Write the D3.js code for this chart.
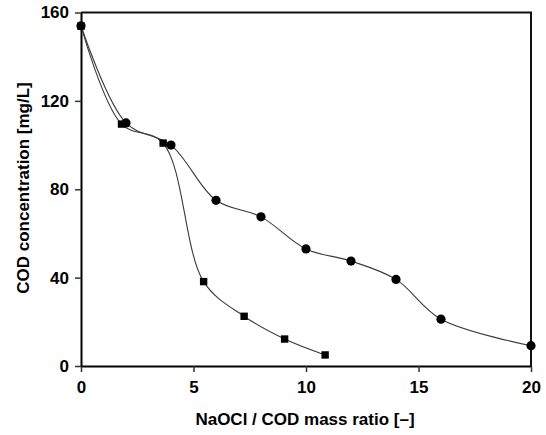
<!DOCTYPE html>
<html>
<head>
<meta charset="utf-8">
<script src="https://cdn.jsdelivr.net/npm/d3@7"></script>
<style>
  body { margin: 0; background: #fff; }
  text { font-family: "Liberation Sans", Arial, sans-serif; font-weight: bold; }
</style>
</head>
<body>
<svg id="chart"></svg>
<script>
const circleX = [0, 2, 4, 6, 8, 10, 12, 14, 16, 20];
const circleY = [154, 110, 100, 75, 67.5, 53, 47.5, 39.2, 21.2, 9.2];
const squareX = [0, 1.8, 3.65, 5.45, 7.25, 9.05, 10.85];
const squareY = [153.8, 109.5, 100.9, 38.2, 22.5, 12.2, 5];
const xTicks = [0, 5, 10, 15, 20];
const yTicks = [0, 40, 80, 120, 160];

const width = 546;
const height = 435;
const color = "#000";

const svg = d3.select("#chart")
  .attr("width", width)
  .attr("height", height);

const xScale = d3.scaleLinear().domain([0, 20]).range([81, 531]);
const yScale = d3.scaleLinear().domain([0, 160]).range([366, 12.5]);

// frame (top and right)
svg.append("path")
  .attr("d", `M${xScale(0)},${yScale(160)}H${xScale(20)}V${yScale(0)}`)
  .attr("fill", "none")
  .attr("stroke", "#111")
  .attr("stroke-width", 2);

const xAxis = svg.append("g")
  .attr("transform", `translate(0, ${yScale(0)})`)
  .call(d3.axisBottom(xScale).tickValues(xTicks).tickSize(6).tickPadding(9).tickSizeOuter(0));

const yAxis = svg.append("g")
  .attr("transform", `translate(${xScale(0)}, 0)`)
  .call(d3.axisLeft(yScale).tickValues(yTicks).tickSize(6).tickPadding(6).tickSizeOuter(0));

[xAxis, yAxis].map((axis) => {
  axis.select(".domain").attr("stroke", color).attr("stroke-width", 2);
  axis.selectAll(".tick line").attr("stroke", "#333").attr("stroke-width", 1.5);
  axis.selectAll(".tick text")
    .attr("fill", color)
    .style("font-size", "17px")
    .style("font-family", '"Liberation Sans", Arial, sans-serif')
    .style("font-weight", "bold");
});

const line = d3.line()
  .x(d => xScale(d[0]))
  .y(d => yScale(d[1]))
  .curve(d3.curveCatmullRom.alpha(0.5));

const circles = circleX.map((x, i) => [x, circleY[i]]);
const squares = squareX.map((x, i) => [x, squareY[i]]);

[circles, squares].map((pts) => {
  svg.append("path")
    .datum(pts)
    .attr("d", line)
    .attr("fill", "none")
    .attr("stroke", "#3a3a3a")
    .attr("stroke-width", 1.1);
});

svg.selectAll(".circ")
  .data(circles)
  .enter().append("circle")
  .attr("class", "circ")
  .attr("cx", d => xScale(d[0]))
  .attr("cy", d => yScale(d[1]))
  .attr("r", 4.6)
  .attr("fill", color);

svg.selectAll(".sq")
  .data(squares)
  .enter().append("rect")
  .attr("class", "sq")
  .attr("x", d => xScale(d[0]) - 3.7)
  .attr("y", d => yScale(d[1]) - 3.7)
  .attr("width", 7.4)
  .attr("height", 7.4)
  .attr("fill", color);

svg.append("text")
  .attr("x", 305)
  .attr("y", 425)
  .attr("text-anchor", "middle")
  .style("font-size", "17px")
  .text("NaOCl / COD mass ratio [–]");

svg.append("text")
  .attr("transform", `translate(29, 188) rotate(-90)`)
  .attr("text-anchor", "middle")
  .style("font-size", "17px")
  .text("COD concentration [mg/L]");
</script>
</body>
</html>
